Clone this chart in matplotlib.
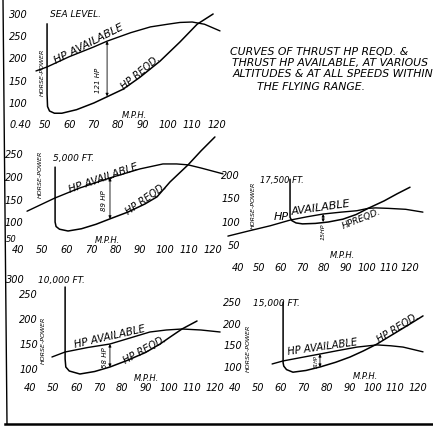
import matplotlib
matplotlib.use("Agg")
import matplotlib.pyplot as plt
from matplotlib.lines import Line2D

plt.rcParams['font.family'] = ['DejaVu Sans']
plt.rcParams['font.style'] = 'oblique'

W, H = 433, 427
fig = plt.figure(figsize=(W / 100, H / 100), dpi=100)

mph_ticks = [40, 50, 60, 70, 80, 90, 100, 110, 120]
mph_labels = ["0.40", "50", "60", "70", "80", "90", "100", "110", "120"]

# sea level
sl_req_mph = [51, 51, 51, 51.2, 52, 54, 57, 63, 70, 75.4, 81.9, 88.8, 96.9, 105, 112, 118.5]
sl_req_hp = [278, 200, 120, 92, 82, 77, 77, 85, 100, 114, 131, 158, 194, 237, 277, 300]
sl_av_mph = [46.5, 51, 60, 70, 75.4, 85, 93, 100, 105, 110, 115, 121.3]
sl_av_hp = [172, 181, 204, 226, 239, 258, 271, 277, 281, 282, 277, 262]

# 5,000 ft
a5_req_mph = [55.2, 55.2, 55.2, 55.6, 57, 60.5, 66, 72, 77.7, 85, 92, 97, 102.3, 109.7, 115, 120.7]
a5_req_hp = [222, 150, 100, 90, 84, 80, 85, 95, 107, 122, 140, 156, 189, 227, 258, 289]
a5_av_mph = [43.7, 55, 65, 77.7, 90, 99.4, 105, 109.7, 115, 124]
a5_av_hp = [124, 153, 175, 198, 218, 229, 229, 227, 220, 207]

# 17,500 ft
a17_req_mph = [64.2, 64.2, 64.2, 65, 67, 70, 76, 82, 88.8, 95, 100.5, 108, 114, 120]
a17_req_hp = [191, 150, 110, 103, 98, 96, 97, 100, 106, 116, 129, 145, 160, 174]
a17_av_mph = [35.3, 45, 55, 64.2, 72, 79.6, 88, 95.3, 100.5, 104, 110, 118, 126]
a17_av_hp = [70, 81, 92, 104, 111, 117, 121, 124, 129, 130, 129, 127, 121]

# 10,000 ft
a10_req_mph = [55.2, 55.2, 55.2, 55.5, 57, 61.6, 68, 74.6, 82, 90, 96.3, 101, 105.8, 112.3]
a10_req_hp = [264, 200, 120, 104, 96, 90, 95, 104, 117, 133, 150, 165, 180, 196]
a10_av_mph = [49.5, 55.2, 65, 74.6, 84, 91.9, 99, 105.8, 114, 122.3]
a10_av_hp = [124, 134, 143, 150, 163, 174, 178, 180, 178, 174]

# 15,000 ft
a15_req_mph = [61, 61, 61, 61.3, 62.5, 65.3, 71, 77.1, 84, 90.2, 96, 102, 106, 110.7, 116, 122.1]
a15_req_hp = [250, 180, 110, 102, 94, 88, 92, 100, 111, 123, 137, 153, 166, 181, 198, 218]
a15_av_mph = [56.2, 61, 69, 77.1, 85, 93.3, 102, 108, 113.4, 122.1]
a15_av_hp = [107, 114, 122, 130, 138, 146, 151, 149, 146, 135]


def make_panel(x40, sx, y100, sy, xl, yl):
    left = x40 + sx * (xl[0] - 40)
    right = x40 + sx * (xl[1] - 40)
    top = y100 - sy * (yl[1] - 100)
    bottom = y100 - sy * (yl[0] - 100)
    ax = fig.add_axes([left / W, 1 - bottom / H, (right - left) / W, (bottom - top) / H])
    ax.set_xlim(xl)
    ax.set_ylim(yl)
    ax.axis('off')
    return ax


def draw(ax, req_x, req_y, av_x, av_y, yt, yx, xt_hp, labels=mph_labels):
    ax.plot(req_x, req_y, color='black', lw=1.1, clip_on=False, solid_capstyle='round')
    ax.plot(av_x, av_y, color='black', lw=1.0, clip_on=False, solid_capstyle='round')
    for v in yt:
        ax.text(yx, v, str(v), ha='right', va='center', fontsize=7)
    for m, lab in zip(mph_ticks, labels):
        ax.text(m, xt_hp, lab, ha='center', va='center', fontsize=7)


def arrow(ax, m, lo, hi):
    ax.annotate('', xy=(m, hi), xytext=(m, lo),
                arrowprops=dict(arrowstyle='<|-|>', lw=0.6, mutation_scale=4, color='black',
                                shrinkA=0, shrinkB=0))


# sea level panel
ax1 = make_panel(20, 2.46, 104, 0.445, (30, 130), (40, 320))
draw(ax1, sl_req_mph, sl_req_hp, sl_av_mph, sl_av_hp, [300, 250, 200, 150, 100], 43, 53)
ax1.text(52.2, 300, "SEA LEVEL.", fontsize=6.5, va='center')
ax1.text(49, 172, "HORSE-POWER", fontsize=4.5, rotation=90, ha='center', va='center')
ax1.text(86.7, 75, "M.P.H.", fontsize=6, ha='center', va='center')
ax1.text(68, 234, "HP AVAILABLE", fontsize=7.8, rotation=27, ha='center', va='center')
ax1.text(89, 171, "HP REQD.", fontsize=7, rotation=40, ha='center', va='center')
ax1.text(71.7, 152, "121 HP", fontsize=5, rotation=90, ha='center', va='center')
arrow(ax1, 75.4, 115, 239)

# right-hand caption
cap = ["CURVES OF THRUST HP REQD. &", "THRUST HP AVAILABLE, AT VARIOUS",
       "ALTITUDES & AT ALL SPEEDS WITHIN", "THE FLYING RANGE."]
cap_x = [230, 232, 233, 257]
cap_y = [52, 63, 74, 87]
for t, cx, cy in zip(cap, cap_x, cap_y):
    fig.text(cx / W, 1 - cy / H, t, fontsize=7.8, va='center', ha='left')

# 5,000 ft panel
ax2 = make_panel(18, 2.44, 223, 0.45, (30, 130), (30, 300))
draw(ax2, a5_req_mph, a5_req_hp, a5_av_mph, a5_av_hp, [250, 200, 150, 100], 42.2, 40,
     ["40"] + mph_labels[1:])
ax2.text(37.3, 63, "50", fontsize=6, ha='center', va='center')
ax2.text(54.3, 244, "5,000 FT.", fontsize=6.5, va='center')
ax2.text(49, 209, "HORSE-POWER", fontsize=4.5, rotation=90, ha='center', va='center')
ax2.text(75, 199, "HP AVAILABLE", fontsize=7.5, rotation=19, ha='center', va='center')
ax2.text(92.5, 153, "HP REQD.", fontsize=7, rotation=35, ha='center', va='center')
ax2.text(75.2, 150, "89 HP", fontsize=5, rotation=90, ha='center', va='center')
ax2.text(76.5, 61, "M.P.H.", fontsize=6, ha='center', va='center')
arrow(ax2, 77.7, 107, 198)

# 17,500 ft panel
ax3 = make_panel(238, 2.15, 223, 0.47, (30, 130), (-5, 200))
draw(ax3, a17_req_mph, a17_req_hp, a17_av_mph, a17_av_hp, [200, 150, 100, 50], 41, 4,
     ["40"] + mph_labels[1:])
ax3.text(50.2, 191, "17,500 FT.", fontsize=6, va='center')
ax3.text(47, 138, "HORSE-POWER", fontsize=4.5, rotation=90, ha='center', va='center')
ax3.text(60, 113, "HP", fontsize=8, ha='center', va='center')
ax3.text(78.6, 132, "AVAILABLE", fontsize=8, rotation=8, ha='center', va='center')
ax3.text(97.2, 108, "HPREQD.", fontsize=6.5, rotation=22, ha='center', va='center')
ax3.text(79.5, 82, "15HP", fontsize=4.5, rotation=90, ha='center', va='center')
ax3.text(88.4, 30, "M.P.H.", fontsize=6, ha='center', va='center')
arrow(ax3, 79.6, 100, 117)

# 10,000 ft panel
ax4 = make_panel(30, 2.31, 370, 0.5, (30, 130), (50, 290))
draw(ax4, a10_req_mph, a10_req_hp, a10_av_mph, a10_av_hp, [250, 200, 150, 100], 43.5, 64,
     ["40"] + mph_labels[1:])
ax4.text(37.8, 280, "300", fontsize=7, ha='right', va='center')
ax4.text(43.5, 280, "10,000 FT.", fontsize=6.5, va='center')
ax4.text(45.6, 160, "HORSE-POWER", fontsize=4.5, rotation=90, ha='center', va='center')
ax4.text(74.6, 167, "HP AVAILABLE", fontsize=7.5, rotation=13, ha='center', va='center')
ax4.text(89.8, 141, "HP REQD.", fontsize=7, rotation=29, ha='center', va='center')
ax4.text(72.5, 125, "58 HP", fontsize=5, rotation=90, ha='center', va='center')
ax4.text(90.6, 82, "M.P.H.", fontsize=6, ha='center', va='center')
arrow(ax4, 74.6, 104, 150)

# 15,000 ft panel
ax5 = make_panel(235, 2.29, 368, 0.433, (30, 130), (40, 260))
draw(ax5, a15_req_mph, a15_req_hp, a15_av_mph, a15_av_hp, [250, 200, 150, 100], 43, 54,
     ["40"] + mph_labels[1:])
ax5.text(47.9, 250, "15,000 FT.", fontsize=6.5, va='center')
ax5.text(45.7, 146, "HORSE-POWER", fontsize=4.5, rotation=90, ha='center', va='center')
ax5.text(78.4, 149, "HP AVAILABLE", fontsize=7.2, rotation=8, ha='center', va='center')
ax5.text(111.2, 193, "HP REQD.", fontsize=7, rotation=32, ha='center', va='center')
ax5.text(75.6, 115, "31HP", fontsize=3.5, rotation=90, ha='center', va='center')
ax5.text(96.8, 80, "M.P.H.", fontsize=6, ha='center', va='center')
arrow(ax5, 77.1, 100, 130)

# page frame
fig.add_artist(Line2D([3 / W, 7 / W], [1.0, 1 - 425 / H], color='black', lw=1.0))
fig.add_artist(Line2D([5 / W, 1.0], [1 - 425 / H, 1 - 425 / H], color='black', lw=1.8))

fig.savefig("out.png", dpi=100)
